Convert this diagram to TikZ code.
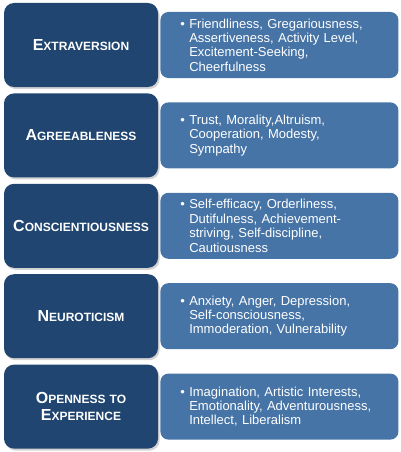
\documentclass[tikz,border=0pt]{standalone}
\usepackage{fontspec}
\setmainfont{Liberation Sans}
\usepackage{tikz}
\usetikzlibrary{positioning, shadows}

\definecolor{traitdark}{RGB}{31,69,112}
\definecolor{traitlight}{RGB}{70,116,166}

% fake small caps: large first letter, smaller rest
\newcommand{\trait}[2]{{\fontsize{16}{17}\selectfont #1}{\fontsize{12}{17}\selectfont #2}}
\newcommand{\ind}{\phantom{\textbullet\ }}

\begin{document}
\begin{tikzpicture}[node distance=6pt,
    factor/.style={fill=traitdark, rounded corners=10pt, text=white,
        font=\bfseries\fontsize{12}{17}\selectfont,
        minimum width=154pt, minimum height=84pt, text width=140pt, inner xsep=7pt, align=center,
        drop shadow={shadow xshift=1.5pt, shadow yshift=-2pt, opacity=0.35}},
    facets/.style={fill=traitlight, rounded corners=8pt, text=white,
        font=\fontsize{13}{14.4}\selectfont, minimum height=66pt,
        text width=198pt, inner xsep=20pt, align=left}]
    \useasboundingbox (0,0) rectangle (400pt,-452pt);

    % Factors
    \node (ext) [factor] at (81pt,-45pt) {\trait{E}{XTRAVERSION}};
    \node (agr) [factor, below=of ext] {\trait{A}{GREEABLENESS}};
    \node (con) [factor, below=of agr] {\trait{C}{ONSCIENTIOUSNESS}};
    \node (neu) [factor, below=of con] {\trait{N}{EUROTICISM}};
    \node (ope) [factor, below=of neu] {\trait{O}{PENNESS TO}\\\trait{E}{XPERIENCE}};

    % Facets
    \node (extf) [facets, right=2pt of ext] {\textbullet\ Friendliness, Gregariousness,\\\ind Assertiveness, Activity Level,\\\ind Excitement-Seeking,\\\ind Cheerfulness};
    \node (agrf) [facets, right=2pt of agr] {\textbullet\ Trust, Morality,Altruism,\\\ind Cooperation, Modesty,\\\ind Sympathy};
    \node (conf) [facets, right=2pt of con] {\textbullet\ Self-efficacy, Orderliness,\\\ind Dutifulness, Achievement-\\\ind striving, Self-discipline,\\\ind Cautiousness};
    \node (neuf) [facets, right=2pt of neu] {\textbullet\ Anxiety, Anger, Depression,\\\ind Self-consciousness,\\\ind Immoderation, Vulnerability};
    \node (opef) [facets, right=2pt of ope] {\textbullet\ Imagination, Artistic Interests,\\\ind Emotionality, Adventurousness,\\\ind Intellect, Liberalism};
\end{tikzpicture}
\end{document}
